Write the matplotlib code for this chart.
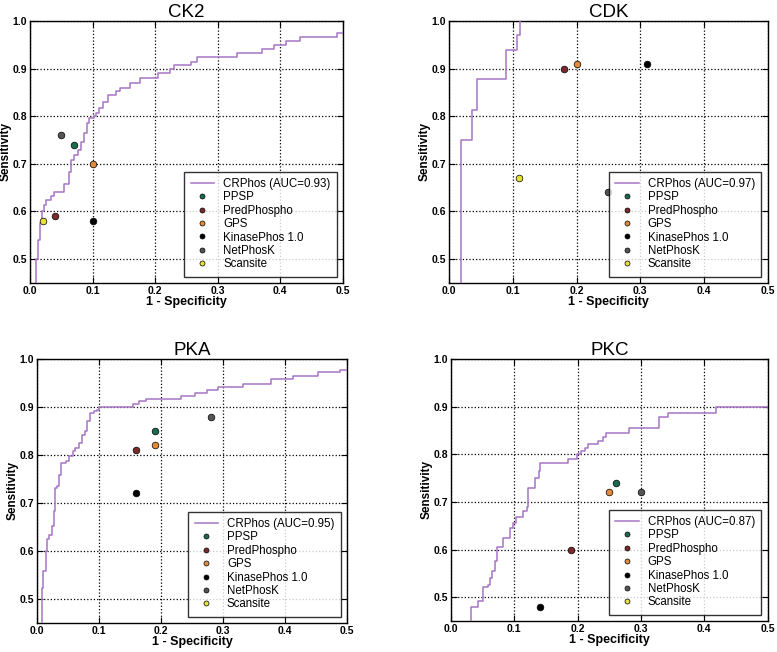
import numpy as np
import matplotlib.pyplot as plt

plt.rcParams['font.family'] = ['Liberation Sans', 'DejaVu Sans']

# tools compared against CRPhos
tools = ['PPSP', 'PredPhospho', 'GPS', 'KinasePhos 1.0', 'NetPhosK', 'Scansite']
tool_colors = ['#1d6b4f', '#7a2a2a', '#e08a3a', '#000000', '#555555', '#e6e03a']

# CK2
ck2_fpr = [0.0, 0.0075, 0.010, 0.013, 0.016, 0.019, 0.022, 0.025, 0.034, 0.039, 0.054,
           0.062, 0.065, 0.071, 0.077, 0.081, 0.086, 0.091, 0.095, 0.103, 0.106, 0.111,
           0.116, 0.124, 0.138, 0.143, 0.159, 0.175, 0.205, 0.224, 0.230, 0.258, 0.267,
           0.331, 0.371, 0.390, 0.409, 0.432, 0.490, 0.500]
ck2_tpr = [0.0, 0.45, 0.50, 0.54, 0.575, 0.60, 0.613, 0.625, 0.633, 0.641, 0.658,
           0.683, 0.708, 0.718, 0.729, 0.746, 0.764, 0.785, 0.796, 0.800, 0.806, 0.817,
           0.830, 0.844, 0.852, 0.859, 0.870, 0.880, 0.890, 0.900, 0.907, 0.914, 0.924,
           0.933, 0.942, 0.950, 0.958, 0.966, 0.975, 0.975]
ck2_auc = 0.93
ck2_tool_x = [0.07, 0.04, 0.10, 0.10, 0.05, 0.02]
ck2_tool_y = [0.74, 0.59, 0.70, 0.58, 0.76, 0.58]

# CDK
cdk_fpr = [0.0, 0.018, 0.036, 0.043, 0.090, 0.107, 0.111]
cdk_tpr = [0.0, 0.75, 0.812, 0.877, 0.939, 0.97, 1.0]
cdk_auc = 0.97
cdk_tool_x = [np.nan, 0.18, 0.20, 0.31, 0.25, 0.11]
cdk_tool_y = [np.nan, 0.90, 0.91, 0.91, 0.64, 0.67]

# PKA
pka_fpr = [0.0, 0.0076, 0.0087, 0.0103, 0.014, 0.016, 0.020, 0.024, 0.027, 0.029, 0.033,
           0.036, 0.039, 0.046, 0.051, 0.058, 0.062, 0.067, 0.073, 0.078, 0.081, 0.085,
           0.092, 0.097, 0.100, 0.155, 0.165, 0.176, 0.233, 0.255, 0.274, 0.292, 0.333,
           0.378, 0.413, 0.454, 0.489, 0.500]
pka_tpr = [0.0, 0.45, 0.523, 0.558, 0.600, 0.624, 0.634, 0.651, 0.683, 0.731, 0.735,
           0.759, 0.783, 0.787, 0.797, 0.808, 0.815, 0.825, 0.842, 0.849, 0.870, 0.887,
           0.891, 0.894, 0.900, 0.907, 0.912, 0.917, 0.923, 0.930, 0.935, 0.941, 0.947,
           0.958, 0.965, 0.972, 0.976, 0.976]
pka_auc = 0.95
pka_tool_x = [0.19, 0.16, 0.19, 0.16, 0.28, np.nan]
pka_tool_y = [0.85, 0.81, 0.82, 0.72, 0.88, np.nan]

# PKC
pkc_fpr = [0.0, 0.030, 0.0316, 0.042, 0.050, 0.058, 0.061, 0.065, 0.069, 0.073, 0.082,
           0.093, 0.098, 0.102, 0.114, 0.120, 0.122, 0.133, 0.139, 0.141, 0.185, 0.199,
           0.205, 0.211, 0.216, 0.232, 0.240, 0.245, 0.281, 0.329, 0.342, 0.419, 0.500]
pkc_tpr = [0.0, 0.449, 0.479, 0.491, 0.521, 0.526, 0.540, 0.554, 0.575, 0.605, 0.625,
           0.645, 0.655, 0.668, 0.680, 0.690, 0.729, 0.750, 0.764, 0.781, 0.790, 0.800,
           0.806, 0.813, 0.821, 0.827, 0.837, 0.844, 0.856, 0.878, 0.887, 0.899, 0.899]
pkc_auc = 0.87
pkc_tool_x = [0.26, 0.19, 0.25, 0.14, 0.30, np.nan]
pkc_tool_y = [0.74, 0.60, 0.72, 0.48, 0.72, np.nan]

panels = [
    ('CK2', ck2_fpr, ck2_tpr, ck2_auc, ck2_tool_x, ck2_tool_y, [0.0386, 0.566, 0.4028, 0.402]),
    ('CDK', cdk_fpr, cdk_tpr, cdk_auc, cdk_tool_x, cdk_tool_y, [0.578, 0.566, 0.410, 0.402]),
    ('PKA', pka_fpr, pka_tpr, pka_auc, pka_tool_x, pka_tool_y, [0.0476, 0.0445, 0.399, 0.405]),
    ('PKC', pkc_fpr, pkc_tpr, pkc_auc, pkc_tool_x, pkc_tool_y, [0.5804, 0.0475, 0.4076, 0.402]),
]

fig = plt.figure(figsize=(7.77, 6.52), dpi=100)

for name, fpr, tpr, auc, tx, ty, rect in panels:
    ax = fig.add_axes(rect)
    ax.plot(fpr, tpr, drawstyle='steps-post', color='#a775c4', linewidth=1.1,
            label='CRPhos (AUC=%.2f)' % auc, zorder=3)
    for i, tool in enumerate(tools):
        ax.plot([tx[i]], [ty[i]], 'o', color=tool_colors[i], markeredgecolor='black',
                markeredgewidth=0.5, markersize=4.8, label=tool, zorder=4)
    ax.set_xlim(0, 0.5)
    ax.set_ylim(0.45, 1.0)
    ax.set_xticks([0.0, 0.1, 0.2, 0.3, 0.4, 0.5])
    ax.set_yticks([0.5, 0.6, 0.7, 0.8, 0.9, 1.0])
    ax.grid(True, color='black', linestyle=':', linewidth=0.9)
    ax.tick_params(direction='in', top=True, right=True, length=4, labelsize=7.5, pad=2)
    for lbl in ax.get_xticklabels() + ax.get_yticklabels():
        lbl.set_fontweight('bold')
    ax.set_xlabel('1 - Specificity', fontsize=9, fontweight='bold', labelpad=0)
    ax.set_ylabel('Sensitivity', fontsize=8.5, fontweight='bold', labelpad=1)
    ax.set_title(name, fontsize=13.5, pad=3)
    leg = ax.legend(loc='lower right', fontsize=8.3, labelspacing=0.12, handlelength=2.0,
                    handletextpad=0.8, borderpad=0.55, borderaxespad=0.55, fancybox=False,
                    markerscale=0.75, numpoints=1)
    leg.get_frame().set_edgecolor('black')
    leg.get_frame().set_linewidth(1.0)
    leg.set_zorder(10)
    for s in ax.spines.values():
        s.set_linewidth(1.0)

fig.savefig('out.png', dpi=100)
